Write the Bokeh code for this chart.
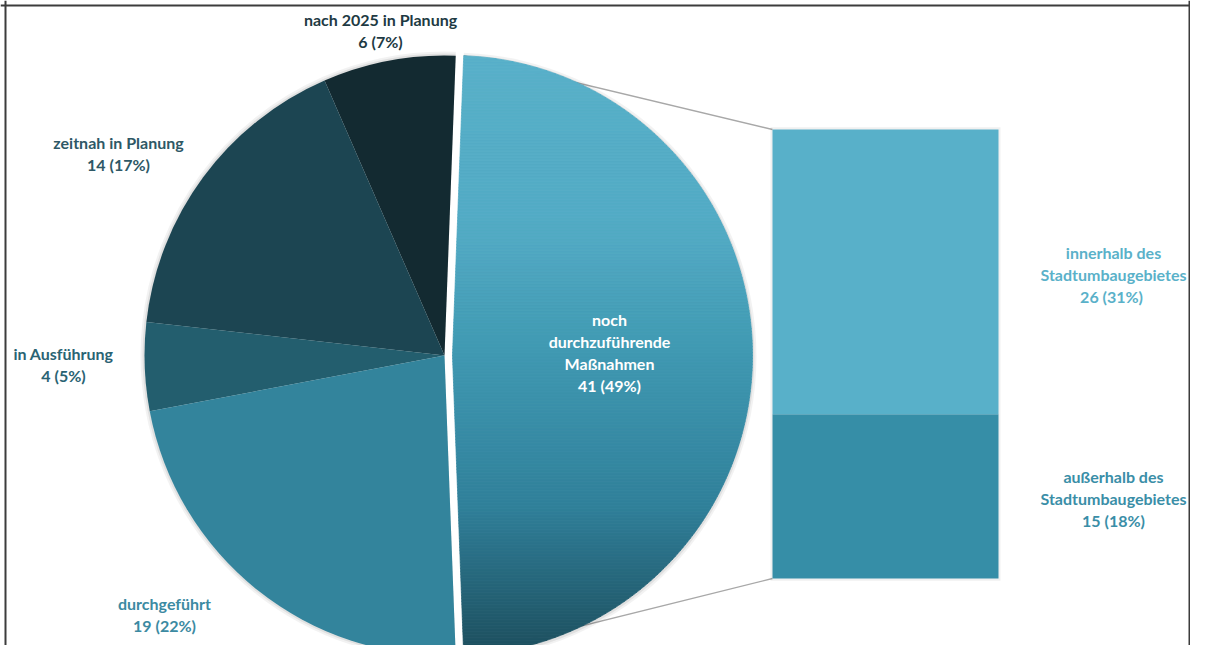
import numpy as np
from bokeh.plotting import figure
from bokeh.models import Range1d, Span
from bokeh.core.properties import value
from bokeh.embed import file_html
from bokeh.resources import INLINE

# ---------------- data ----------------
pie_labels = ["noch\ndurchzuführende\nMaßnahmen", "nach 2025 in Planung",
              "zeitnah in Planung", "in Ausführung", "durchgeführt"]
pie_values = [41, 6, 14, 4, 19]
pie_percents = [49, 7, 17, 5, 22]

bar_labels = ["außerhalb des\nStadtumbaugebietes", "innerhalb des\nStadtumbaugebietes"]
bar_values = [15, 26]
bar_percents = [18, 31]
bar_sep = [" ", "  "]

# ---------------- styles ----------------
slice_colors = [None, "#132A31", "#1C4552", "#235E6E", "#33849C"]
pie_label_colors = ["#FFFFFF", "#1E3A43", "#2E5866", "#2A6373", "#3C8AA2"]
bar_colors = ["#368EA7", "#58B0C9"]
bar_label_colors = ["#3A8EA7", "#5AB1C9"]
grad_stops_t = [0.0, 0.3, 0.47, 0.75, 1.0]
grad_stops_c = ["#58B0C9", "#52AAC4", "#419BB4", "#30809A", "#1C4D5C"]

W, H = 1190, 645


def Y(yref):
    return H - yref


p = figure(width=W, height=H, x_range=Range1d(0, W), y_range=Range1d(0, H),
           output_backend="svg", toolbar_location=None, min_border=0)
p.axis.visible = False
p.grid.visible = False
p.outline_line_color = None
p.background_fill_color = "white"
p.border_fill_color = "white"

# frame (top, left, right)
p.add_layout(Span(location=5, dimension="height", line_color="#3C3C3C", line_width=2))
p.add_layout(Span(location=W - 1, dimension="height", line_color="#3C3C3C", line_width=2))
p.add_layout(Span(location=Y(5), dimension="width", line_color="#3C3C3C", line_width=2))

# ---------------- pie geometry ----------------
cx, cy, r = 444, Y(355), 300
explode = 8
total = sum(pie_values)
fr = np.array(pie_values) / total
h = fr[0] * np.pi                      # half-angle of split slice
starts, ends = [], []
a = h
for f in fr[1:]:
    starts.append(a)
    a += f * 2 * np.pi
    ends.append(a)
ex = cx + explode

# ---------------- bar geometry (own scale) ----------------
bar_total = sum(bar_values)
bar_bottom_px = Y(578)
bar_scale = (578 - 129) / bar_total
p.extra_y_ranges = {"bar": Range1d(-bar_bottom_px / bar_scale, (H - bar_bottom_px) / bar_scale)}
bar_left, bar_right = 772, 998
bar_tops = np.cumsum(bar_values)
bar_bottoms = bar_tops - np.array(bar_values)

# connector lines (behind the slice)
p.segment(x0=[ex + r * np.cos(h), ex + r * np.cos(-h)],
          y0=[cy + r * np.sin(h), cy + r * np.sin(-h)],
          x1=[bar_left, bar_left],
          y1=[bar_bottom_px + bar_total * bar_scale, bar_bottom_px],
          line_color="#A8A8A8", line_width=1.3)

# shadows
for dr, al in [(4, 0.05), (2, 0.07)]:
    p.wedge(x=[cx] * len(starts), y=[cy] * len(starts), radius=r + dr,
            start_angle=starts, end_angle=ends, fill_color="black", fill_alpha=al, line_color=None)
    p.wedge(x=[ex], y=[cy - 1], radius=r + dr, start_angle=[-h], end_angle=[h],
            fill_color="black", fill_alpha=al, line_color=None)

# left slices
p.wedge(x=[cx] * len(starts), y=[cy] * len(starts), radius=r,
        start_angle=starts, end_angle=ends, fill_color=slice_colors[1:], line_color=None)


# split slice with vertical gradient (horizontal strips)
def hex2rgb(c):
    return np.array([int(c[i:i + 2], 16) for i in (1, 3, 5)], dtype=float)


def grad(t):
    rgb = [np.interp(t, grad_stops_t, [hex2rgb(c)[k] for c in grad_stops_c]) for k in range(3)]
    return "#%02x%02x%02x" % tuple(int(round(v)) for v in rgb)


ytop = r * np.sin(h)
edges = np.linspace(-ytop, ytop, 201)
xs_l, ys_l, cols = [], [], []
for y0, y1 in zip(edges[:-1], edges[1:]):
    ys = np.linspace(y0, y1, 4)
    if y0 < 0 < y1:
        ys = np.sort(np.append(ys, 0.0))
    left = np.abs(ys) / np.tan(h)
    right = np.sqrt(np.maximum(r * r - ys ** 2, 0))
    xs_l.append(list(np.concatenate([left, right[::-1]]) + ex))
    ys_l.append(list(np.concatenate([ys, ys[::-1]]) + cy))
    yref = 355 - (y0 + y1) / 2
    cols.append(grad((yref - 55) / 600))
p.patches(xs_l, ys_l, fill_color=cols, line_color=cols, line_width=0.8)

# bar shadow + bars
p.quad(left=bar_left - 2, right=bar_right + 2, bottom=-0.2, top=bar_total + 0.2,
       y_range_name="bar", fill_color="black", fill_alpha=0.06, line_color=None)
p.quad(left=bar_left, right=bar_right, bottom=list(bar_bottoms), top=list(bar_tops),
       y_range_name="bar", fill_color=bar_colors, line_color=None)

# ---------------- labels ----------------
LH = 22
pie_label_pos = [(609, 319), (380, 19), (118, 142), (63, 353), (164, 603)]
bar_label_pos = [(1113, 476), (1113, 252)]

tx, ty, tt, tc = [], [], [], []
for lab, v, pc, (x, y0), col in zip(pie_labels, pie_values, pie_percents, pie_label_pos, pie_label_colors):
    lines = lab.split("\n") + [f"{v} ({pc}%)"]
    for i, ln in enumerate(lines):
        tx.append(x); ty.append(Y(y0 + i * LH)); tt.append(ln); tc.append(col)
for lab, v, pc, sep, (x, y0), col in zip(bar_labels, bar_values, bar_percents, bar_sep, bar_label_pos, bar_label_colors):
    lines = lab.split("\n") + [f"{v}{sep}({pc}%)"]
    for i, ln in enumerate(lines):
        tx.append(x); ty.append(Y(y0 + i * LH)); tt.append(ln); tc.append(col)

p.text(x=tx, y=ty, text=tt, text_color=tc, text_align="center", text_baseline="middle",
       text_font=value("Lato"), text_font_style="bold", text_font_size="16px")

open("out.html", "w").write(file_html(p, INLINE))
